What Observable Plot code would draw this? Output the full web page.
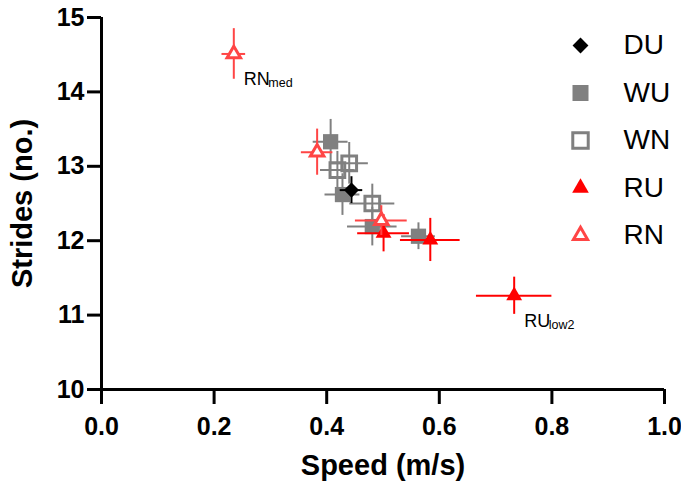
<!DOCTYPE html>
<html>
<head>
<meta charset="utf-8">
<script src="https://cdn.jsdelivr.net/npm/d3@7"></script>
<script src="https://cdn.jsdelivr.net/npm/@observablehq/plot@0.6"></script>
<style>
  html, body { margin: 0; padding: 0; background: #fff; }
  #chart { width: 681px; height: 490px; }
  svg { font-family: "Liberation Sans", Arial, sans-serif; }
</style>
</head>
<body>
<div id="chart"></div>
<script>
// ---- data ----
const groups = ["DU", "WU", "WN", "RU", "RN"];
const group      = ["DU", "WU", "WU", "WU", "WU", "WN", "WN", "WN", "RU", "RU", "RU", "RN", "RN", "RN"];
const speed      = [0.444, 0.407, 0.428, 0.481, 0.563, 0.419, 0.440, 0.481, 0.501, 0.584, 0.733, 0.235, 0.383, 0.497];
const strides    = [12.68, 13.33, 12.62, 12.19, 12.06, 12.95, 13.04, 12.50, 12.10, 12.01, 11.26, 14.51, 13.19, 12.27];
const speedErr   = [0.020, 0.031, 0.031, 0.044, 0.030, 0.030, 0.034, 0.040, 0.046, 0.053, 0.067, 0.021, 0.028, 0.046];
const stridesErr = [0.18, 0.30, 0.28, 0.26, 0.18, 0.25, 0.28, 0.26, 0.25, 0.29, 0.25, 0.34, 0.31, 0.20];
const xTicks = [0, 0.2, 0.4, 0.6, 0.8, 1.0];
const yTicks = [10, 11, 12, 13, 14, 15];
const noteMain = ["RN", "RU"];
const noteSub  = ["med", "low2"];
const notePoint = [11, 10];   // index of annotated point

// ---- styles ----
const style = {
  DU: {symbol: "diamond2", fill: "#000000", stroke: "none", bar: "#000000", r: 6.8, sw: 0},
  WU: {symbol: "square", fill: "#808080", stroke: "none", bar: "#808080", r: 8.6, sw: 0},
  WN: {symbol: "square", fill: "none", stroke: "#808080", bar: "#808080", r: 8.3, sw: 3},
  RU: {symbol: "triangle", fill: "#ff0000", stroke: "none", bar: "#ff0000", r: 5.9, sw: 0},
  RN: {symbol: "triangle", fill: "#ffffff", stroke: "#ff4545", bar: "#ff4545", r: 5.0, sw: 3}
};

const rows = group.map((g, i) => ({g, x: speed[i], y: strides[i], ex: speedErr[i], ey: stridesErr[i]}));
const drawOrder = ["WU", "WN", "RU", "RN", "DU"];
const font = "Liberation Sans, Arial, sans-serif";

const marks = [];
for (const g of drawOrder) {
  const s = style[g];
  const d = rows.filter(r => r.g === g);
  marks.push(Plot.ruleY(d, {y: "y", x1: r => r.x - r.ex, x2: r => r.x + r.ex, stroke: s.bar, strokeWidth: 2}));
  marks.push(Plot.ruleX(d, {x: "x", y1: r => r.y - r.ey, y2: r => r.y + r.ey, stroke: s.bar, strokeWidth: 2}));
  marks.push(Plot.dot(d, {x: "x", y: "y", symbol: () => s.symbol, r: s.r, fill: s.fill, stroke: s.stroke, strokeWidth: s.sw, strokeLinejoin: "miter"}));
}

// annotations
noteMain.forEach((t, k) => {
  const p = rows[notePoint[k]];
  marks.push(Plot.text([p], {x: "x", y: "y", text: () => t, dx: 10, dy: 25, textAnchor: "start", lineAnchor: "middle", fontSize: 18, fill: "#000", fontFamily: font}));
  marks.push(Plot.text([p], {x: "x", y: "y", text: () => noteSub[k], dx: 34.5, dy: 29, textAnchor: "start", lineAnchor: "middle", fontSize: 12.5, fill: "#000", fontFamily: font}));
});

// legend
groups.forEach((g, i) => {
  const s = style[g];
  const dy = 28 + i * 47.5;
  marks.push(Plot.dot([g], {frameAnchor: "top-right", dx: -84, dy, symbol: () => s.symbol, r: s.r * 1.05, fill: s.fill, stroke: s.stroke, strokeWidth: s.sw, strokeLinejoin: "miter"}));
  marks.push(Plot.text([g], {frameAnchor: "top-right", dx: -41, dy: dy, text: d => d, textAnchor: "start", lineAnchor: "middle", fontSize: 28, fill: "#000", fontFamily: font}));
});

const chart = Plot.plot({
  width: 681,
  height: 490,
  marginLeft: 101,
  marginRight: 17,
  marginTop: 17,
  marginBottom: 101,
  style: {fontFamily: font, background: "#fff", overflow: "visible"},
  x: {domain: [0, 1], axis: null},
  y: {domain: [10, 15], axis: null},
  marks: [
    Plot.axisX({ticks: xTicks, tickFormat: d => d.toFixed(1), tickSize: 15, tickPadding: 13, strokeWidth: 3, fontSize: 25, fontWeight: "bold", fill: "#000", stroke: "#000", label: null}),
    Plot.axisY({ticks: yTicks, tickFormat: d => String(d), tickSize: 14, tickPadding: 3, strokeWidth: 3, fontSize: 25, fontWeight: "bold", fill: "#000", stroke: "#000", label: null}),
    Plot.ruleY([10], {stroke: "#000", strokeWidth: 3}),
    Plot.ruleX([0], {stroke: "#000", strokeWidth: 3}),
    Plot.text(["Speed (m/s)"], {frameAnchor: "bottom", dy: 76, textAnchor: "middle", lineAnchor: "middle", fontSize: 29, fontWeight: "bold", fill: "#000", fontFamily: font}),
    Plot.text(["Strides (no.)"], {frameAnchor: "left", dx: -79, rotate: -90, textAnchor: "middle", lineAnchor: "middle", fontSize: 29, fontWeight: "bold", fill: "#000", fontFamily: font}),
    ...marks
  ]
});
document.getElementById("chart").appendChild(chart);
</script>
</body>
</html>
